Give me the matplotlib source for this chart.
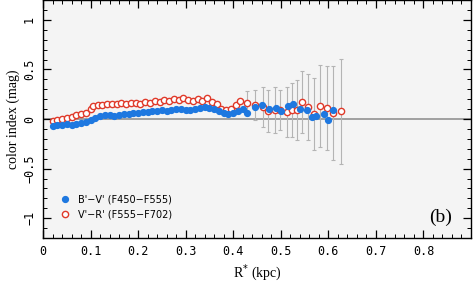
import matplotlib
matplotlib.use("Agg")
import matplotlib.pyplot as plt
from matplotlib.ticker import MultipleLocator, FixedLocator

# B'-V' (F450-F555), filled blue
bv_r = [0.02, 0.03, 0.04, 0.05, 0.06, 0.07, 0.08, 0.09, 0.10, 0.11, 0.12, 0.13, 0.14,
        0.15, 0.16, 0.17, 0.18, 0.19, 0.20, 0.21, 0.22, 0.23, 0.24, 0.25, 0.26, 0.27,
        0.28, 0.29, 0.30, 0.31, 0.32, 0.33, 0.34, 0.35, 0.36, 0.37, 0.38, 0.39, 0.40,
        0.41, 0.42, 0.43, 0.445, 0.46, 0.475, 0.49, 0.50, 0.515, 0.525, 0.54, 0.555,
        0.565, 0.575, 0.59, 0.60, 0.61]
bv_c = [-0.07, -0.06, -0.06, -0.05, -0.06, -0.05, -0.04, -0.03, -0.01, 0.01, 0.03, 0.04,
        0.04, 0.03, 0.04, 0.05, 0.05, 0.06, 0.06, 0.07, 0.07, 0.08, 0.08, 0.09, 0.08, 0.09,
        0.10, 0.10, 0.09, 0.09, 0.10, 0.11, 0.12, 0.11, 0.10, 0.08, 0.06, 0.05, 0.06,
        0.08, 0.10, 0.06, 0.12, 0.14, 0.10, 0.11, 0.08, 0.13, 0.15, 0.10, 0.09,
        0.02, 0.03, 0.05, -0.01, 0.09]

# V'-R' (F555-F702), open red
vr_r = [0.02, 0.03, 0.04, 0.05, 0.06, 0.07, 0.08, 0.09, 0.10, 0.105, 0.115, 0.125, 0.135,
        0.145, 0.155, 0.165, 0.175, 0.185, 0.195, 0.205, 0.215, 0.225, 0.235, 0.245,
        0.255, 0.265, 0.275, 0.285, 0.295, 0.305, 0.315, 0.325, 0.335, 0.345, 0.355,
        0.365, 0.375, 0.385, 0.395, 0.405, 0.415,
        0.429, 0.445, 0.462, 0.473, 0.487, 0.498, 0.513, 0.523, 0.534, 0.544, 0.557,
        0.569, 0.582, 0.597, 0.609, 0.626]
vr_c = [-0.02, -0.01, 0.0, 0.01, 0.02, 0.04, 0.05, 0.06, 0.10, 0.13, 0.14, 0.14, 0.15,
        0.15, 0.15, 0.16, 0.15, 0.16, 0.16, 0.15, 0.17, 0.16, 0.18, 0.17, 0.19, 0.18,
        0.20, 0.19, 0.21, 0.19, 0.18, 0.20, 0.18, 0.21, 0.17, 0.15, 0.10, 0.09, 0.10,
        0.14, 0.18,
        0.16, 0.14, 0.12, 0.08, 0.09, 0.09, 0.07, 0.09, 0.09, 0.17, 0.12, 0.05, 0.13,
        0.11, 0.06, 0.08]
vr_err = [0.0] * 41 + [0.12, 0.15, 0.20, 0.21, 0.23, 0.20, 0.25, 0.27, 0.30, 0.31, 0.33,
                       0.36, 0.41, 0.42, 0.47, 0.53]

xticks = [0, 0.1, 0.2, 0.3, 0.4, 0.5, 0.6, 0.7, 0.8]
xticklabels = ["0", "0.1", "0.2", "0.3", "0.4", "0.5", "0.6", "0.7", "0.8"]
yticks = [-1, -0.5, 0, 0.5, 1]
yticklabels = ["\u22121", "\u22120.5", "0", "0.5", "1"]

fig = plt.figure(figsize=(4.74, 2.89), dpi=100)
ax = fig.add_axes([43 / 474, 1 - 238 / 289, 428 / 474, 238 / 289])
ax.set_facecolor("#f4f4f4")
ax.set_xlim(0, 0.9)
ax.set_ylim(-1.2, 1.2)

ax.axhline(0, color="#a0a0a0", lw=1.4, zorder=1)

ax.errorbar(vr_r, vr_c, yerr=vr_err, fmt="none", ecolor="#b4b4b4", elinewidth=0.8,
            capsize=1.5, capthick=0.8, zorder=2)
ax.plot(vr_r, vr_c, "o", mfc="white", mec="#e03a2a", mew=1.0, ms=4.5, zorder=3,
        label="V'\u2212R' (F555\u2212F702)")
ax.plot(bv_r, bv_c, "o", color="#1e78e0", ms=4.2, zorder=4,
        label="B'\u2212V' (F450\u2212F555)")

ax.xaxis.set_major_locator(FixedLocator(xticks))
ax.set_xticklabels(xticklabels)
ax.xaxis.set_minor_locator(MultipleLocator(0.02))
ax.yaxis.set_major_locator(FixedLocator(yticks))
ax.set_yticklabels(yticklabels, rotation=90, va="center")
ax.yaxis.set_minor_locator(MultipleLocator(0.1))
ax.tick_params(which="both", direction="in", top=True, right=True, labelsize=8.5,
               colors="black")
ax.tick_params(which="major", length=6, width=0.9)
ax.tick_params(which="minor", length=3, width=0.7)
ax.tick_params(axis="x", pad=5)
ax.tick_params(axis="y", pad=5)
for s in ax.spines.values():
    s.set_linewidth(1.0)
for lab in ax.get_xticklabels() + ax.get_yticklabels():
    lab.set_family("DejaVu Sans Mono")

ax.set_xlabel("R$^{*}$ (kpc)", family="Liberation Serif", fontsize=10, labelpad=3)
ax.set_ylabel("color index (mag)", family="Liberation Serif", fontsize=10, labelpad=2)

handles, labels = ax.get_legend_handles_labels()
leg = ax.legend(handles[::-1], labels[::-1], loc="lower left",
                bbox_to_anchor=(0.02, 0.04), frameon=False, handletextpad=0.8,
                labelspacing=0.5, prop={"family": "DejaVu Sans", "size": 7},
                handlelength=1.0)

ax.text(0.93, 0.085, "(b)", transform=ax.transAxes, ha="center", va="center",
        family="Liberation Serif", fontsize=14)

fig.savefig("out.png", dpi=100)
